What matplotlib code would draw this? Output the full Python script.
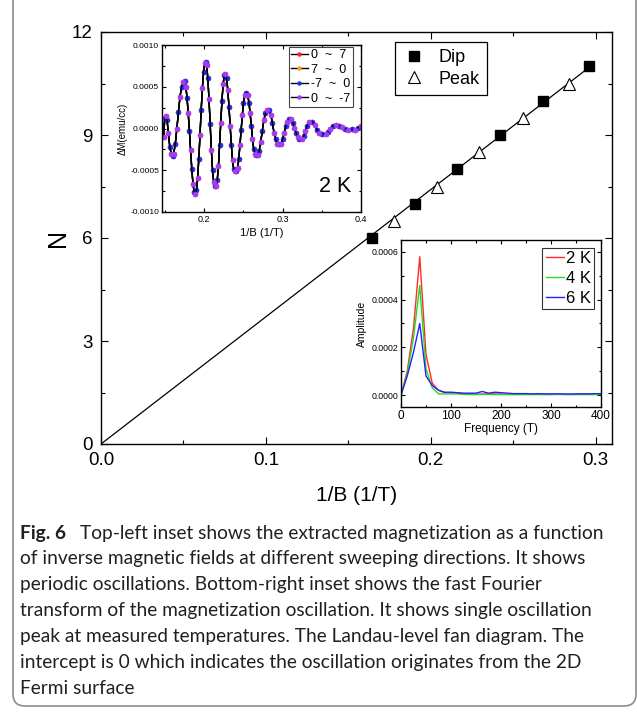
import numpy as np
import matplotlib
matplotlib.use('Agg')
import matplotlib.pyplot as plt
from matplotlib.patches import FancyBboxPatch
from matplotlib.ticker import MultipleLocator, FormatStrFormatter

plt.rcParams['font.family'] = ['Liberation Sans', 'DejaVu Sans']

# Landau-level fan diagram
dip_x = [0.1642, 0.1903, 0.2158, 0.2418, 0.2679, 0.2958]
dip_n = [6, 7, 8, 9, 10, 11]
peak_x = [0.1776, 0.2036, 0.2291, 0.2558, 0.2842]
peak_n = [6.5, 7.5, 8.5, 9.5, 10.5]

# top-left inset: dM vs 1/B (dM in 1e-4 emu/cc)
inv_b = [0.146, 0.148, 0.1495, 0.151, 0.1525, 0.154, 0.156, 0.158, 0.1598, 0.161,
         0.163, 0.165, 0.167, 0.169, 0.171, 0.173, 0.1748, 0.1765, 0.178, 0.1795,
         0.181, 0.1825, 0.184, 0.1855, 0.187, 0.1885, 0.190, 0.1915, 0.193, 0.1945,
         0.196, 0.1975, 0.199, 0.2005, 0.2017, 0.203, 0.2045, 0.206, 0.2075, 0.209,
         0.2105, 0.212, 0.2135, 0.215, 0.2165, 0.218, 0.2195, 0.221, 0.2225, 0.224,
         0.2255, 0.2269, 0.2285, 0.230, 0.2315, 0.233, 0.2345, 0.236, 0.2375, 0.2395,
         0.241, 0.2425, 0.244, 0.2455, 0.247, 0.2485, 0.250, 0.2515, 0.2538, 0.2555,
         0.257, 0.2585, 0.260, 0.2615, 0.263, 0.265, 0.2665, 0.268, 0.270, 0.272,
         0.274, 0.276, 0.278, 0.280, 0.2825, 0.285, 0.287, 0.289, 0.291, 0.293,
         0.295, 0.2974, 0.300, 0.302, 0.304, 0.306, 0.308, 0.311, 0.313, 0.315,
         0.317, 0.319, 0.321, 0.3248, 0.327, 0.329, 0.331, 0.334, 0.338, 0.341,
         0.344, 0.347, 0.350, 0.3551, 0.358, 0.361, 0.364, 0.368, 0.372, 0.376,
         0.380, 0.384, 0.388, 0.392, 0.396, 0.400]
dm_vals = [0.5, -1.0, 1.2, 1.5, 1.0, -0.5, -2.2, -3.1, -3.3, -3.0,
           -1.8, 0.0, 2.0, 3.8, 5.0, 5.6, 5.7, 5.0, 3.6, 1.8,
           -0.3, -2.6, -4.8, -6.6, -7.6, -7.9, -7.4, -5.9, -3.6, -0.8,
           2.2, 4.8, 6.8, 7.8, 8.0, 7.6, 6.0, 3.5, 0.5, -2.6,
           -5.0, -6.4, -6.9, -6.9, -6.2, -4.5, -2.0, 0.7, 3.3, 5.3,
           6.4, 6.5, 6.0, 4.6, 2.6, 0.3, -2.0, -3.8, -4.9, -5.1,
           -5.1, -4.7, -3.6, -2.0, -0.2, 1.6, 3.1, 4.0, 4.3, 4.0,
           3.1, 1.8, 0.3, -1.2, -2.4, -3.1, -3.2, -3.2, -2.7, -1.6,
           -0.3, 1.0, 1.8, 2.2, 2.2, 1.6, 0.6, -0.5, -1.3, -1.8,
           -1.9, -1.9, -1.3, -0.5, 0.3, 0.8, 1.1, 1.1, 0.7, 0.1,
           -0.5, -1.0, -1.2, -1.3, -0.9, -0.3, 0.3, 0.8, 0.8, 0.4,
           -0.2, -0.5, -0.6, -0.7, -0.4, 0.0, 0.3, 0.4, 0.3, 0.2,
           0.0, -0.2, -0.1, -0.2, 0.1, 0.3]
dm = np.array(dm_vals) * 1e-4
sweep_labels = ['0  ~  7', '7  ~  0', '-7  ~  0', '0  ~  -7']
sweep_colors = ['#ff2020', '#ff9a20', '#1f2fff', '#a23bff']

# bottom-right inset: FFT amplitude (1e-5)
freq = [0, 12.5, 25, 37.5, 50, 62.5, 75, 87.5, 100, 112.5, 125, 137.5, 150, 162.5,
        175, 187.5, 200, 212.5, 225, 237.5, 250, 262.5, 275, 287.5, 300, 312.5,
        325, 337.5, 350, 362.5, 375, 387.5, 400]
amp_2k = [0, 10, 28, 58, 17, 5, 2, 1, 1, 0.8, 0.6, 0.5, 0.4, 0.4, 0.5, 0.5, 0.4,
          0.3, 0.3, 0.3, 0.4, 0.3, 0.3, 0.3, 0.3, 0.3, 0.3, 0.3, 0.3, 0.4, 0.3, 0.3, 0.3]
amp_4k = [0, 9, 24, 46, 11, 3, 0.5, 0.5, 0.5, 0.5, 0.3, 0.2, 0.2, 0.3, 0.3, 0.2, 0.2,
          0.2, 0.2, 0.2, 0.2, 0.2, 0.2, 0.2, 0.2, 0.3, 0.2, 0.2, 0.2, 0.2, 0.2, 0.2, 0.3]
amp_6k = [0, 8, 18, 30, 8, 4, 2, 1.2, 1.2, 1.0, 0.8, 0.8, 0.8, 1.5, 0.8, 1.2, 1.0,
          0.8, 0.6, 0.6, 0.6, 0.5, 0.6, 0.5, 0.5, 0.5, 0.5, 0.4, 0.5, 0.5, 0.5, 0.6, 0.6]
temp_labels = ['2 K', '4 K', '6 K']
temp_colors = ['#ff2a2a', '#22dd22', '#2222ff']

caption_first = 'Top-left inset shows the extracted magnetization as a function'
caption = [
    'of inverse magnetic fields at different sweeping directions. It shows',
    'periodic oscillations. Bottom-right inset shows the fast Fourier',
    'transform of the magnetization oscillation. It shows single oscillation',
    'peak at measured temperatures. The Landau-level fan diagram. The',
    'intercept is 0 which indicates the oscillation originates from the 2D',
    'Fermi surface',
]

W, H = 637, 713
fig = plt.figure(figsize=(W / 100, H / 100), dpi=100)


def px_axes(x0, y0, x1, y1):
    # pixel box (top-left origin) -> figure axes
    return fig.add_axes([x0 / W, 1 - y1 / H, (x1 - x0) / W, (y1 - y0) / H])


def style_ticks(ax, size, major, minor, pad=2):
    ax.tick_params(which='both', direction='in', top=True, right=True, width=0.8)
    ax.tick_params(which='major', length=major, labelsize=size, pad=pad)
    ax.tick_params(which='minor', length=minor)
    for s in ax.spines.values():
        s.set_linewidth(1.0)


# main plot
ax = px_axes(101, 32, 612, 444)
xs = np.array(dip_x + peak_x)
ns = np.array(dip_n + peak_n)
slope = np.sum(xs * ns) / np.sum(xs ** 2)
xfit = np.array([0, max(dip_x)])
ax.plot(xfit, slope * xfit, color='k', lw=0.9, zorder=1)
ax.plot(dip_x, dip_n, 's', color='k', ms=7.5, label='Dip', zorder=3)
ax.plot(peak_x, peak_n, '^', mfc='white', mec='k', mew=0.8, ms=8.5, label='Peak', zorder=3)
ax.set_xlim(0, 0.31)
ax.set_ylim(0, 12)
ax.xaxis.set_major_locator(MultipleLocator(0.1))
ax.xaxis.set_minor_locator(MultipleLocator(0.05))
ax.xaxis.set_major_formatter(FormatStrFormatter('%.1f'))
ax.yaxis.set_major_locator(MultipleLocator(3))
ax.yaxis.set_minor_locator(MultipleLocator(1.5))
style_ticks(ax, 13.5, 5, 3, pad=6)
ax.set_xlabel('1/B (1/T)', fontsize=15, labelpad=12)
ax.set_ylabel('N', fontsize=18, labelpad=1)
leg = ax.legend(loc='upper left', bbox_to_anchor=(0.575, 0.976), borderaxespad=0,
                fontsize=13, numpoints=1, fancybox=False, edgecolor='k',
                framealpha=1, handlelength=1.3, handletextpad=0.7, borderpad=0.4,
                labelspacing=0.25)
leg.get_frame().set_linewidth(0.9)

# top-left inset
ax1 = px_axes(162, 45, 361, 212)
for i in range(4):
    every = 1 if i < 2 else (i - 2, 2)
    ax1.plot(inv_b, dm, color='k', lw=1.0, marker='o', ms=3.6, mfc=sweep_colors[i],
             mec=sweep_colors[i], mew=0.3, markevery=every, label=sweep_labels[i])
ax1.set_xlim(0.146, 0.4)
ax1.set_ylim(-0.001, 0.001)
ax1.xaxis.set_major_locator(MultipleLocator(0.1))
ax1.xaxis.set_minor_locator(MultipleLocator(0.05))
ax1.xaxis.set_major_formatter(FormatStrFormatter('%.1f'))
ax1.yaxis.set_major_locator(MultipleLocator(0.0005))
ax1.yaxis.set_minor_locator(MultipleLocator(0.00025))
ax1.yaxis.set_major_formatter(FormatStrFormatter('%.4f'))
style_ticks(ax1, 6, 3, 1.8)
ax1.tick_params(axis='x', labelsize=6.5)
ax1.set_xlabel('1/B (1/T)', fontsize=8, labelpad=3)
ax1.set_ylabel('ΔM(emu/cc)', fontsize=7, labelpad=2)
ax1.text(0.87, 0.15, '2 K', transform=ax1.transAxes, fontsize=15.5, ha='center', va='center')
leg1 = ax1.legend(loc='upper right', bbox_to_anchor=(0.96, 0.99), borderaxespad=0,
                  fontsize=9, fancybox=False, edgecolor='#444444', framealpha=1,
                  handlelength=1.3, handletextpad=0.3, borderpad=0.2, labelspacing=0.2,
                  markerscale=0.8)
leg1.get_frame().set_linewidth(0.8)

# bottom-right inset
ax2 = px_axes(401, 240, 601, 407)
for amp, lab, c in zip([amp_2k, amp_4k, amp_6k], temp_labels, temp_colors):
    ax2.plot(freq, np.array(amp) * 1e-5, color=c, lw=1.0, label=lab)
ax2.set_xlim(0, 400)
ax2.set_ylim(-0.00005, 0.00065)
ax2.xaxis.set_major_locator(MultipleLocator(100))
ax2.xaxis.set_minor_locator(MultipleLocator(50))
ax2.yaxis.set_major_locator(MultipleLocator(0.0002))
ax2.yaxis.set_minor_locator(MultipleLocator(0.0001))
ax2.yaxis.set_major_formatter(FormatStrFormatter('%.4f'))
style_ticks(ax2, 6.3, 3, 1.8)
ax2.tick_params(axis='x', labelsize=8.5)
ax2.set_xlabel('Frequency (T)', fontsize=8.5, labelpad=1)
ax2.set_ylabel('Amplitude', fontsize=7.5, labelpad=3)
leg2 = ax2.legend(loc='upper right', bbox_to_anchor=(0.965, 0.955), borderaxespad=0,
                  fontsize=12, fancybox=False, edgecolor='#333333', framealpha=1,
                  handlelength=1.1, handletextpad=0.1, borderpad=0.2, labelspacing=0.3)
leg2.get_frame().set_linewidth(0.8)

# caption and frame
cap_font = ['Lato', 'DejaVu Sans']
cap_size = 13.8
y0 = 533
fig_lbl = fig.text(20 / W, 1 - y0 / H, 'Fig. 6', fontsize=cap_size, fontweight='bold',
                   family=cap_font, va='center', ha='left', color='#231f20')
ax.annotate(caption_first, xy=(1, 0.5), xycoords=fig_lbl, xytext=(10, 0),
            textcoords='offset points', fontsize=cap_size, family=cap_font,
            va='center', ha='left', annotation_clip=False, color='#231f20')
for i, line in enumerate(caption):
    fig.text(20 / W, 1 - (y0 + 25.9 * (i + 1)) / H, line, fontsize=cap_size,
             family=cap_font, va='center', ha='left', color='#231f20')

frame = FancyBboxPatch((0.13, 0.07), 6.23, 7.3, boxstyle='round,pad=0,rounding_size=0.12',
                       transform=fig.dpi_scale_trans, fill=False, edgecolor='#8c8c8c', lw=1.2)
fig.patches.append(frame)

fig.savefig('out.png', dpi=100)
